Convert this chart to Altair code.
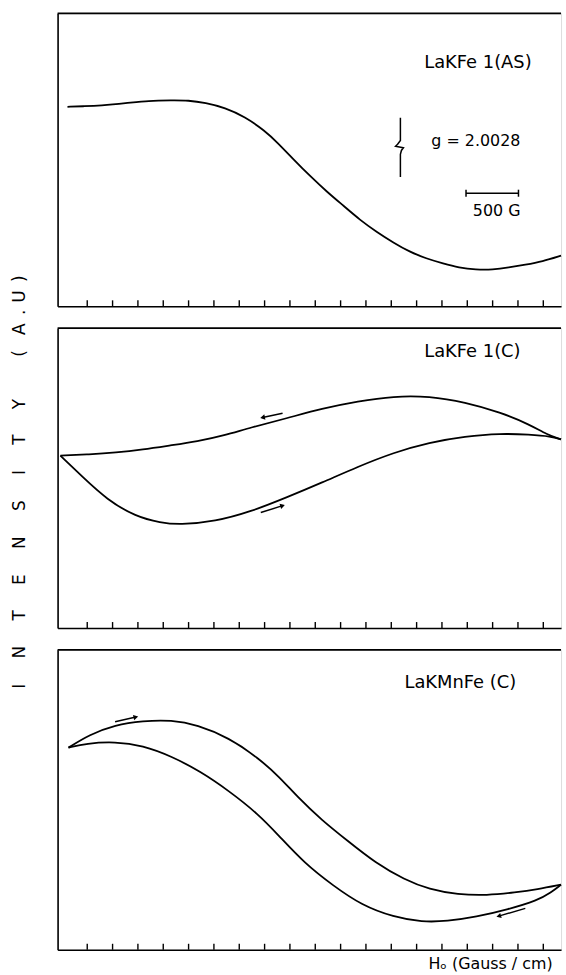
import altair as alt
import pandas as pd

FONT = "DejaVu Sans"

# x in field divisions (inner tick marks at 0..18), y in arbitrary intensity units (0-100 per panel)
X_DOMAIN = [-1.17, 18.70]
TICK_POS = list(range(19))

# ---- Panel 1 : LaKFe 1(AS) ----
p1_x = [-0.78, -0.12, 0.51, 1.53, 2.43, 3.33, 3.99, 4.66, 5.44, 6.22, 7.00, 7.51, 8.18, 8.80,
        9.47, 10.13, 10.76, 11.42, 12.09, 12.72, 13.38, 14.05, 14.67, 15.34, 16.00, 16.63,
        17.29, 17.96, 18.70]
p1_y = [68.1, 68.3, 68.5, 69.3, 70.2, 70.3, 70.3, 69.5, 67.8, 64.7, 60.0, 55.9, 49.8, 44.4,
        39.0, 34.2, 29.5, 25.4, 21.7, 18.6, 16.3, 14.6, 13.2, 12.5, 12.5, 13.2, 14.2, 15.3, 17.3]

# g-marker glyph
g_x = [12.36, 12.36, 12.25, 12.17, 12.32, 12.48, 12.40, 12.36, 12.36]
g_y = [64.4, 56.6, 55.3, 54.6, 54.4, 54.1, 53.2, 51.9, 44.1]

# 500 G scale bar
bar_x = [14.95]
bar_x2 = [17.02]
bar_y = [38.6]
cap_lo = [37.4]
cap_hi = [39.8]

p1_labels = ["LaKFe 1(AS)"]
p1_label_x = [13.30]
p1_label_y = [83.1]
p1_notes = ["g = 2.0028", "500 G"]
p1_note_x = [13.58, 15.22]
p1_note_y = [56.3, 32.5]

# ---- Panel 2 : LaKFe 1(C) ----
p2_up_x = [-1.06, 0.08, 1.13, 2.19, 3.29, 4.34, 5.40, 6.46, 7.86, 9.27, 10.68, 12.09, 13.50,
           14.91, 16.31, 17.45, 18.15, 18.70]
p2_up_y = [57.5, 57.9, 58.5, 59.5, 60.9, 62.2, 64.2, 66.9, 69.9, 73.2, 75.6, 77.3, 77.3,
           75.3, 71.9, 67.9, 64.5, 62.9]
p2_lo_x = [-1.06, -0.20, 0.78, 1.92, 2.90, 3.64, 5.05, 6.46, 7.86, 9.27, 10.68, 12.09, 13.50,
           14.91, 16.31, 17.45, 18.31, 18.70]
p2_lo_y = [57.5, 50.5, 42.8, 37.1, 35.1, 34.4, 35.5, 38.8, 43.5, 48.5, 53.8, 58.5, 61.9,
           63.9, 64.9, 64.5, 63.9, 62.9]
p2_labels = ["LaKFe 1(C)"]
p2_label_x = [13.30]
p2_label_y = [92.0]
# arrows: tail -> head
p2_arr_x = [7.71, 6.85]
p2_arr_y = [71.6, 38.5]
p2_arr_x2 = [6.92, 7.71]
p2_arr_y2 = [70.2, 40.8]
p2_arr_dir = [348, 343]
p2_arr_shape = ["triangle-left", "triangle-right"]

# ---- Panel 3 : LaKMnFe (C) ----
p3_up_x = [-0.74, 0.08, 1.10, 2.19, 3.33, 4.34, 5.59, 6.73, 7.59, 8.29, 9.27, 10.25, 11.38,
           12.52, 13.50, 14.63, 15.77, 16.90, 17.76, 18.70]
p3_up_y = [67.4, 71.7, 75.0, 76.3, 76.6, 75.0, 70.7, 64.1, 57.6, 51.0, 43.1, 36.5, 28.9,
           23.4, 20.1, 18.4, 18.1, 19.1, 20.1, 21.7]
p3_lo_x = [-0.74, -0.04, 1.10, 2.19, 3.33, 4.46, 5.59, 6.73, 7.59, 8.57, 9.70, 10.84, 12.09,
           13.22, 14.20, 15.34, 16.63, 17.76, 18.31, 18.70]
p3_lo_y = [67.4, 68.8, 69.4, 68.1, 64.5, 59.5, 53.0, 45.4, 37.8, 28.9, 21.4, 14.8, 10.9,
           9.2, 9.5, 10.9, 13.5, 16.4, 19.1, 21.7]
p3_labels = ["LaKMnFe (C)"]
p3_label_x = [12.52]
p3_label_y = [88.8]
p3_arr_x = [1.10, 17.29]
p3_arr_y = [76.0, 13.8]
p3_arr_x2 = [1.92, 16.24]
p3_arr_y2 = [77.6, 11.2]
p3_arr_dir = [347, 344]
p3_arr_shape = ["triangle-right", "triangle-left"]

X_TITLE = "H\u2092 (Gauss / cm)"
SEP = "\u2003\u2002"
Y_TITLE = SEP.join(list("INTENSITY")) + "\u2003\u2003\u2002(" + "\u2002\u2009\u2009A\u2002.\u2009\u2009U\u2002)"

W = 507
HEIGHTS = [295, 302, 302]
TICK_LEN = 6
LW = 1.8

xscale = alt.Scale(domain=X_DOMAIN, nice=False, zero=False)
yscale = alt.Scale(domain=[0, 100], nice=False, zero=False)


def make_axes(xtitle=None):
    common = dict(domain=True, ticks=False, labels=False, grid=False,
                  domainColor="black", domainWidth=1.6, domainOpacity=1)
    if xtitle:
        xaxis = alt.Axis(title=xtitle, titleFont=FONT, titleFontSize=16,
                         titleFontWeight="normal", titleColor="black",
                         titleAlign="right", titleAnchor="end", titleBaseline="middle",
                         titleX=W - 9, titleY=14, **common)
    else:
        xaxis = alt.Axis(title=None, **common)
    yaxis = alt.Axis(title=None, **common)
    return xaxis, yaxis


def line_df(series):
    rows = []
    for name, xs, ys in series:
        for i, (x, y) in enumerate(zip(xs, ys)):
            rows.append({"x": x, "y": y, "s": name, "o": i})
    return pd.DataFrame(rows)


def panel(series, labels, lx, ly, h, extra_fn=None, xtitle=None):
    xaxis, yaxis = make_axes(xtitle)
    X = lambda f: alt.X(f, scale=xscale, axis=xaxis)
    Y = lambda f: alt.Y(f, scale=yscale, axis=yaxis)
    curves = alt.Chart(line_df(series)).mark_line(
        color="black", strokeWidth=LW, interpolate="basis"
    ).encode(x=X("x:Q"), y=Y("y:Q"), detail="s:N", order="o:Q")
    ticks = alt.Chart(pd.DataFrame({"x": TICK_POS})).mark_rule(
        color="black", strokeWidth=1.4
    ).encode(x=X("x:Q"), y=alt.value(h), y2=alt.value(h - TICK_LEN))
    top = alt.Chart(pd.DataFrame({"a": [0]})).mark_rule(
        color="black", strokeWidth=1.6
    ).encode(x=alt.value(0), x2=alt.value(W), y=alt.value(0))
    lab = alt.Chart(pd.DataFrame({"x": lx, "y": ly, "t": labels})).mark_text(
        align="left", baseline="middle", font=FONT, fontSize=18, color="black"
    ).encode(x=X("x:Q"), y=Y("y:Q"), text="t:N")
    layers = [curves, ticks, top, lab]
    if extra_fn:
        layers += extra_fn(X, Y)
    return alt.layer(*layers).properties(width=W, height=h)


def arrows(ax, ay, ax2, ay2, ang, shapes):
    def build(X, Y):
        df = pd.DataFrame({"x": ax, "y": ay, "x2": ax2, "y2": ay2, "a": ang, "sh": shapes})
        shaft = alt.Chart(df).mark_rule(color="black", strokeWidth=1.5).encode(
            x=X("x:Q"), y=Y("y:Q"), x2="x2:Q", y2="y2:Q")
        head = alt.Chart(df).mark_point(filled=True, color="black", size=30, opacity=1).encode(
            x=X("x2:Q"), y=Y("y2:Q"),
            angle=alt.Angle("a:Q", scale=None),
            shape=alt.Shape("sh:N", scale=None),
        )
        return [shaft, head]
    return build


def p1_extras(X, Y):
    gline = alt.Chart(pd.DataFrame({"x": g_x, "y": g_y, "o": list(range(len(g_x)))})).mark_line(
        color="black", strokeWidth=1.5
    ).encode(x=X("x:Q"), y=Y("y:Q"), order="o:Q")
    bar = alt.Chart(pd.DataFrame({"x": bar_x, "x2": bar_x2, "y": bar_y})).mark_rule(
        color="black", strokeWidth=1.5
    ).encode(x=X("x:Q"), x2="x2:Q", y=Y("y:Q"))
    caps = alt.Chart(pd.DataFrame({"x": bar_x + bar_x2, "y": cap_lo * 2, "y2": cap_hi * 2})).mark_rule(
        color="black", strokeWidth=1.5
    ).encode(x=X("x:Q"), y=Y("y:Q"), y2="y2:Q")
    notes = alt.Chart(pd.DataFrame({"x": p1_note_x, "y": p1_note_y, "t": p1_notes})).mark_text(
        align="left", baseline="middle", font=FONT, fontSize=16, color="black"
    ).encode(x=X("x:Q"), y=Y("y:Q"), text="t:N")
    return [gline, bar, caps, notes]


c1 = panel([("as", p1_x, p1_y)], p1_labels, p1_label_x, p1_label_y, HEIGHTS[0],
           extra_fn=p1_extras)
c2 = panel([("up", p2_up_x, p2_up_y), ("lo", p2_lo_x, p2_lo_y)], p2_labels, p2_label_x,
           p2_label_y, HEIGHTS[1],
           extra_fn=arrows(p2_arr_x, p2_arr_y, p2_arr_x2, p2_arr_y2, p2_arr_dir, p2_arr_shape))
c3 = panel([("up", p3_up_x, p3_up_y), ("lo", p3_lo_x, p3_lo_y)], p3_labels, p3_label_x,
           p3_label_y, HEIGHTS[2],
           extra_fn=arrows(p3_arr_x, p3_arr_y, p3_arr_x2, p3_arr_y2, p3_arr_dir, p3_arr_shape),
           xtitle=X_TITLE)

chart = alt.vconcat(c1, c2, c3, spacing=18).properties(
    title=alt.TitleParams(text=Y_TITLE, orient="left", anchor="middle", font=FONT,
                          fontSize=17, fontWeight="normal", color="black", offset=28,
                          dx=10),
    padding={"left": 10, "top": 8, "right": 0, "bottom": 0},
).configure_view(stroke=None).configure(background="white")

chart.save("out.html", embed_options={"renderer": "svg", "actions": False})
